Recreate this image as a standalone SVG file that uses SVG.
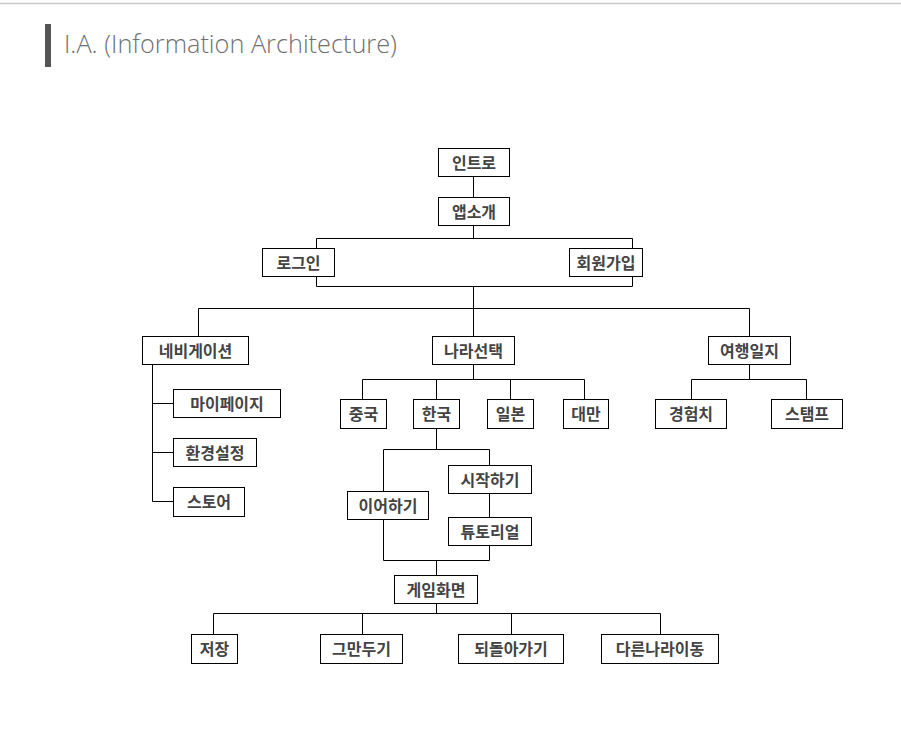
<svg xmlns="http://www.w3.org/2000/svg" width="901" height="730" viewBox="0 0 901 730">
<style>
.n rect{fill:#fff;stroke:#000;stroke-width:1}
.n text{font-family:"Noto Sans CJK KR","Noto Sans",sans-serif;font-size:16px;font-weight:bold;fill:#444;text-anchor:middle}
#connectors path{fill:none;stroke:#000;stroke-width:1}
</style>
<rect x="0" y="0" width="901" height="730" fill="#fff"/>
<line x1="0" y1="3.5" x2="901" y2="3.5" stroke="#c8c8c8" stroke-width="1.3"/>
<rect x="45" y="24" width="6" height="43" fill="#555"/>
<text x="64" y="53" font-family="Open Sans, sans-serif" font-weight="300" font-size="25" fill="#707070" textLength="333" lengthAdjust="spacingAndGlyphs">I.A. (Information Architecture)</text>
<g id="connectors">
<path d="M473.5 176.5V197.5M473.5 225.5V238.5M316.5 248.5V238.5H632.5V248.5M316.5 276.5V286.5H632.5V276.5M473.5 286.5V308.5"/>
<path d="M198.5 336.5V308.5H749.5V336.5M473.5 308.5V336.5"/>
<path d="M152.5 364.5V501.5H173.5M152.5 403.5H173.5M152.5 452.5H173.5"/>
<path d="M473.5 364.5V379.5M362.5 399.5V379.5H584.5V399.5M436.5 379.5V399.5M510.5 379.5V399.5"/>
<path d="M749.5 364.5V379.5M691.5 399.5V379.5H806.5V399.5"/>
<path d="M436.5 428.5V449.5M383.5 491.5V449.5H489.5V465.5M489.5 493.5V517.5M383.5 519.5V560.5H489.5V545.5M436.5 560.5V575.5"/>
<path d="M436.5 603.5V613.5M213.5 634.5V613.5H660.5V634.5M362.5 613.5V634.5M511.5 613.5V634.5"/>
</g>
<g id="n-intro" class="n"><rect x="438.5" y="148.5" width="71" height="28"/><text x="474" y="168.5">인트로</text></g>
<g id="n-appintro" class="n"><rect x="438.5" y="197.5" width="71" height="28"/><text x="474" y="217.5">앱소개</text></g>
<g id="n-login" class="n"><rect x="262.5" y="248.5" width="72" height="28"/><text x="298.5" y="268.5">로그인</text></g>
<g id="n-signup" class="n"><rect x="569.5" y="248.5" width="73" height="28"/><text x="606" y="268.5">회원가입</text></g>
<g id="n-nav" class="n"><rect x="142.5" y="336.5" width="106" height="28"/><text x="195.5" y="356.5">네비게이션</text></g>
<g id="n-country" class="n"><rect x="432.5" y="336.5" width="82" height="28"/><text x="473.5" y="356.5">나라선택</text></g>
<g id="n-journal" class="n"><rect x="708.5" y="336.5" width="82" height="28"/><text x="749.5" y="356.5">여행일지</text></g>
<g id="n-mypage" class="n"><rect x="173.5" y="389.5" width="107" height="28"/><text x="227" y="409.5">마이페이지</text></g>
<g id="n-settings" class="n"><rect x="173.5" y="438.5" width="83" height="28"/><text x="215" y="458.5">환경설정</text></g>
<g id="n-store" class="n"><rect x="173.5" y="487.5" width="71" height="29"/><text x="209" y="508">스토어</text></g>
<g id="n-china" class="n"><rect x="340.5" y="399.5" width="46" height="29"/><text x="363.5" y="420">중국</text></g>
<g id="n-korea" class="n"><rect x="413.5" y="399.5" width="46" height="29"/><text x="436.5" y="420">한국</text></g>
<g id="n-japan" class="n"><rect x="487.5" y="399.5" width="46" height="29"/><text x="510.5" y="420">일본</text></g>
<g id="n-taiwan" class="n"><rect x="563.5" y="399.5" width="45" height="29"/><text x="586" y="420">대만</text></g>
<g id="n-exp" class="n"><rect x="655.5" y="399.5" width="71" height="29"/><text x="691" y="420">경험치</text></g>
<g id="n-stamp" class="n"><rect x="771.5" y="399.5" width="71" height="29"/><text x="807" y="420">스탬프</text></g>
<g id="n-start" class="n"><rect x="448.5" y="465.5" width="83" height="28"/><text x="490" y="485.5">시작하기</text></g>
<g id="n-continue" class="n"><rect x="347.5" y="491.5" width="81" height="28"/><text x="388" y="511.5">이어하기</text></g>
<g id="n-tutorial" class="n"><rect x="448.5" y="517.5" width="83" height="28"/><text x="490" y="537.5">튜토리얼</text></g>
<g id="n-game" class="n"><rect x="394.5" y="575.5" width="83" height="28"/><text x="436" y="595.5">게임화면</text></g>
<g id="n-save" class="n"><rect x="191.5" y="634.5" width="46" height="29"/><text x="214.5" y="655">저장</text></g>
<g id="n-quit" class="n"><rect x="320.5" y="634.5" width="82" height="29"/><text x="361.5" y="655">그만두기</text></g>
<g id="n-undo" class="n"><rect x="458.5" y="634.5" width="105" height="29"/><text x="511" y="655">되돌아가기</text></g>
<g id="n-other" class="n"><rect x="601.5" y="634.5" width="117" height="29"/><text x="660" y="655">다른나라이동</text></g>
</svg>
